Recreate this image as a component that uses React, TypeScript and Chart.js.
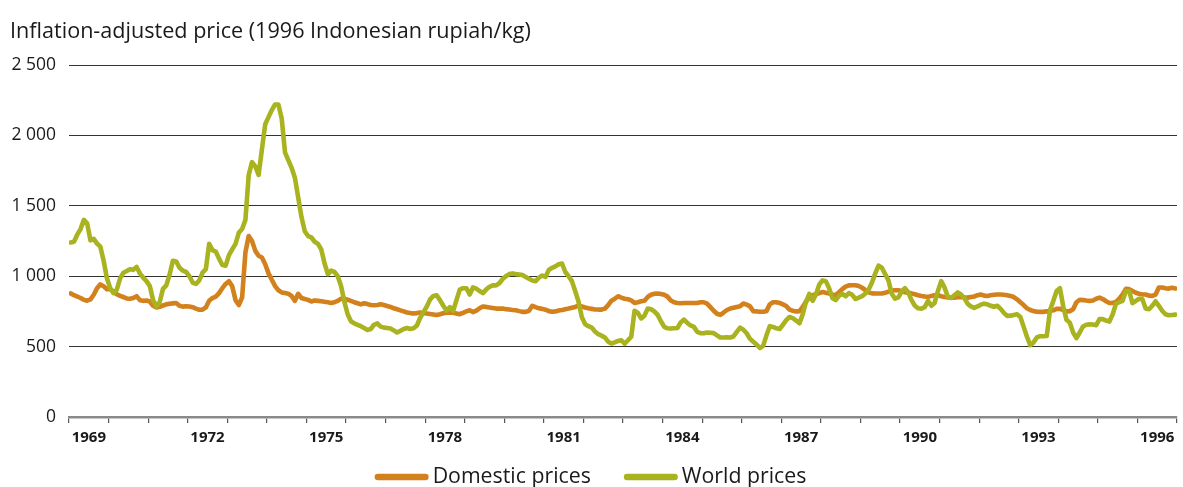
import { useEffect, useRef } from 'react';
import { Chart, registerables } from 'chart.js';

Chart.register(...registerables);

const FIRST_YEAR = 1969;
const YEAR_COUNT = 28;
const LABEL_EVERY = 3;
const yTickValues = [0, 500, 1000, 1500, 2000, 2500];
const seriesLabels = ['Domestic prices', 'World prices'];
const titleText = 'Inflation-adjusted price (1996 Indonesian rupiah/kg)';

// Monthly values, Jan 1969 – Dec 1996 (12 per row)
const domestic = [
  878, 865, 856, 845, 832, 826, 835, 868, 915, 942, 928, 908, // 1969
  910, 888, 872, 860, 852, 842, 840, 845, 858, 830, 825, 827, // 1970
  820, 790, 778, 783, 792, 800, 804, 807, 810, 790, 784, 787, // 1971
  785, 780, 770, 762, 762, 778, 825, 845, 855, 880, 915, 945, // 1972
  965, 928, 830, 795, 850, 1170, 1285, 1250, 1180, 1145, 1133, 1085, // 1973
  1020, 975, 930, 900, 885, 880, 875, 860, 825, 875, 845, 838, // 1974
  832, 820, 828, 825, 822, 818, 815, 810, 815, 825, 840, 840, // 1975
  833, 825, 815, 808, 800, 808, 802, 795, 794, 795, 800, 795, // 1976
  788, 782, 772, 765, 757, 750, 742, 738, 735, 738, 742, 737, // 1977
  735, 732, 728, 724, 730, 737, 740, 740, 740, 735, 730, 740, // 1978
  750, 758, 745, 755, 772, 785, 782, 778, 774, 770, 770, 770, // 1979
  766, 763, 760, 758, 752, 747, 747, 755, 790, 780, 772, 768, // 1980
  762, 752, 748, 750, 756, 760, 765, 770, 776, 782, 792, 785, // 1981
  778, 772, 768, 764, 763, 763, 770, 795, 826, 840, 858, 848, // 1982
  840, 836, 828, 810, 815, 822, 826, 853, 868, 875, 877, 874, // 1983
  868, 855, 828, 815, 810, 808, 810, 810, 810, 810, 810, 815, // 1984
  815, 805, 780, 755, 733, 725, 742, 760, 770, 776, 782, 786, // 1985
  806, 798, 786, 752, 750, 748, 748, 752, 800, 815, 815, 810, // 1986
  800, 788, 763, 755, 750, 752, 782, 820, 850, 865, 872, 880, // 1987
  888, 883, 877, 870, 865, 886, 908, 926, 935, 936, 936, 930, // 1988
  918, 902, 885, 878, 877, 877, 877, 882, 890, 898, 900, 900, // 1989
  895, 886, 882, 878, 872, 865, 860, 856, 853, 860, 865, 865, // 1990
  858, 853, 849, 848, 848, 850, 853, 850, 848, 852, 856, 865, // 1991
  870, 862, 860, 865, 868, 870, 870, 868, 865, 860, 852, 836, // 1992
  815, 795, 772, 760, 752, 748, 747, 747, 750, 753, 758, 768, // 1993
  768, 760, 750, 752, 765, 815, 833, 830, 827, 825, 828, 840, // 1994
  848, 838, 822, 810, 810, 818, 840, 870, 910, 908, 895, 882, // 1995
  875, 870, 870, 862, 860, 870, 920, 920, 915, 912, 918, 913, // 1996
];

const world = [
  1240, 1245, 1295, 1335, 1400, 1375, 1255, 1265, 1232, 1210, 1110, 985, // 1969
  915, 880, 905, 985, 1025, 1037, 1050, 1045, 1065, 1020, 990, 965, // 1970
  930, 830, 785, 815, 910, 935, 1010, 1110, 1105, 1060, 1040, 1030, // 1971
  1000, 955, 945, 970, 1025, 1050, 1230, 1185, 1175, 1125, 1080, 1075, // 1972
  1150, 1190, 1230, 1310, 1335, 1400, 1720, 1810, 1780, 1720, 1900, 2080, // 1973
  2130, 2180, 2220, 2220, 2120, 1880, 1825, 1770, 1700, 1560, 1420, 1320, // 1974
  1285, 1275, 1245, 1230, 1190, 1090, 1015, 1040, 1030, 1000, 930, 820, // 1975
  730, 680, 665, 655, 645, 632, 618, 625, 655, 665, 642, 635, // 1976
  632, 628, 615, 600, 612, 625, 632, 625, 630, 650, 705, 745, // 1977
  785, 835, 860, 865, 830, 790, 755, 780, 755, 830, 905, 915, // 1978
  915, 870, 920, 912, 895, 880, 905, 925, 935, 935, 950, 980, // 1979
  1000, 1015, 1020, 1015, 1012, 1008, 995, 982, 970, 965, 990, 1005, // 1980
  995, 1045, 1060, 1070, 1085, 1090, 1030, 1000, 965, 895, 820, 710, // 1981
  660, 645, 635, 608, 588, 578, 565, 535, 522, 530, 540, 545, // 1982
  520, 545, 570, 755, 740, 700, 720, 770, 765, 750, 725, 680, // 1983
  640, 630, 628, 630, 632, 672, 692, 668, 650, 640, 605, 595, // 1984
  595, 600, 598, 596, 580, 565, 565, 566, 565, 572, 605, 635, // 1985
  620, 595, 555, 535, 515, 490, 505, 580, 645, 640, 630, 625, // 1986
  655, 688, 710, 702, 685, 665, 730, 820, 875, 825, 870, 940, // 1987
  970, 965, 915, 845, 830, 860, 875, 858, 880, 868, 838, 848, // 1988
  858, 877, 905, 955, 1020, 1075, 1060, 1015, 970, 875, 840, 850, // 1989
  890, 915, 885, 830, 790, 772, 770, 780, 825, 790, 810, 895, // 1990
  965, 920, 855, 845, 865, 885, 870, 845, 805, 785, 775, 785, // 1991
  798, 805, 800, 790, 783, 790, 768, 740, 718, 720, 725, 730, // 1992
  710, 640, 570, 510, 530, 565, 574, 574, 575, 760, 825, 895, // 1993
  915, 785, 690, 670, 600, 560, 600, 643, 655, 658, 657, 652, // 1994
  695, 695, 685, 678, 730, 805, 815, 825, 895, 895, 808, 825, // 1995
  840, 836, 770, 765, 790, 822, 790, 755, 730, 723, 725, 727, // 1996
];

const ORANGE = '#D3811C';
const GREEN = '#A9B21F';
const TEXT = '#1a1a1a';
const FONT = "'Open Sans', 'Noto Sans', sans-serif";

const fmtThousands = (v: number) =>
  v >= 1000 ? `${Math.floor(v / 1000)} ${String(v % 1000).padStart(3, '0')}` : String(v);

// Bottom legend drawn with line swatches (spacing as in the reference)
const lineLegend = {
  id: 'lineLegend',
  afterDraw(chart: any) {
    const ctx = chart.ctx as CanvasRenderingContext2D;
    const swatch = 54;
    const gapText = 4;
    const gapItem = 33;
    const yMid = 477;
    ctx.save();
    ctx.font = `21.3px ${FONT}`;
    ctx.textBaseline = 'middle';
    ctx.textAlign = 'left';
    const items = chart.data.datasets.map((d: any) => ({
      text: d.label as string,
      color: d.borderColor as string,
      w: ctx.measureText(d.label).width,
    }));
    const total =
      items.reduce((s: number, it: any) => s + swatch + gapText + it.w, 0) + gapItem * (items.length - 1);
    let x = (chart.width - total) / 2 - 1;
    for (const it of items) {
      ctx.strokeStyle = it.color;
      ctx.lineWidth = 6.5;
      ctx.lineCap = 'round';
      ctx.beginPath();
      ctx.moveTo(x + 3.25, yMid);
      ctx.lineTo(x + swatch - 3.25, yMid);
      ctx.stroke();
      ctx.fillStyle = TEXT;
      ctx.fillText(it.text, x + swatch + gapText, yMid);
      x += swatch + gapText + it.w + gapItem;
    }
    ctx.restore();
  },
};

export default function App() {
  const ref = useRef<HTMLCanvasElement | null>(null);

  useEffect(() => {
    if (!ref.current) return;
    const toPoints = (arr: number[]) => arr.map((v, i) => ({ x: i + 0.5, y: v }));
    const totalMonths = YEAR_COUNT * 12;

    const chart = new Chart(ref.current, {
      type: 'line',
      data: {
        datasets: [
          {
            label: seriesLabels[0],
            data: toPoints(domestic),
            borderColor: ORANGE,
            backgroundColor: ORANGE,
            borderWidth: 4.6,
            pointRadius: 0,
            tension: 0,
            borderJoinStyle: 'round',
            borderCapStyle: 'round',
            order: 1,
          },
          {
            label: seriesLabels[1],
            data: toPoints(world),
            borderColor: GREEN,
            backgroundColor: GREEN,
            borderWidth: 4.6,
            pointRadius: 0,
            tension: 0,
            borderJoinStyle: 'round',
            borderCapStyle: 'round',
            order: 0,
          },
        ],
      },
      plugins: [lineLegend],
      options: {
        responsive: false,
        animation: false,
        layout: { padding: { left: 10, right: 5, top: 0, bottom: 34 } },
        plugins: {
          title: {
            display: true,
            text: titleText,
            align: 'start',
            color: TEXT,
            font: { family: FONT, size: 21.6, weight: 'normal' },
            padding: { top: 18.6, bottom: 20.5 },
          },
          legend: { display: false },
          tooltip: { enabled: false },
        },
        scales: {
          x: {
            type: 'linear',
            min: 0,
            max: totalMonths,
            afterBuildTicks: (s: any) => {
              s.ticks = Array.from({ length: YEAR_COUNT + 1 }, (_, k) => ({ value: k * 12 }));
            },
            ticks: {
              autoSkip: false,
              maxRotation: 0,
              minRotation: 0,
              padding: 6,
              labelOffset: 19.8,
              color: TEXT,
              font: { family: FONT, size: 15, weight: 'bold' },
              callback: (v: any) => {
                const k = Math.round(Number(v) / 12);
                return k < YEAR_COUNT && k % LABEL_EVERY === 0 ? String(FIRST_YEAR + k) : '';
              },
            },
            grid: {
              drawOnChartArea: false,
              drawTicks: true,
              tickLength: 6,
              color: '#555',
              lineWidth: 1.2,
            },
            border: { display: true, color: '#8a8a8a', width: 2.5 },
          },
          y: {
            min: 0,
            max: 2500,
            afterBuildTicks: (s: any) => {
              s.ticks = yTickValues.map((v) => ({ value: v }));
            },
            afterFit: (s: any) => {
              s.width = 59;
            },
            ticks: {
              padding: 13,
              color: TEXT,
              font: { family: FONT, size: 17.5 },
              callback: (v: any) => fmtThousands(Number(v)),
            },
            grid: {
              drawTicks: false,
              color: (ctx: any) => (ctx.tick && ctx.tick.value === 0 ? 'rgba(0,0,0,0)' : '#333'),
              lineWidth: 1,
            },
            border: { display: false },
          },
        },
      },
    } as any);

    return () => chart.destroy();
  }, []);

  return (
    <div
      style={{
        position: 'fixed',
        left: 0,
        top: 0,
        width: 1183,
        height: 487,
        overflow: 'hidden',
        background: '#fff',
      }}
    >
      <canvas ref={ref} width={1183} height={487} style={{ display: 'block' }} />
    </div>
  );
}
